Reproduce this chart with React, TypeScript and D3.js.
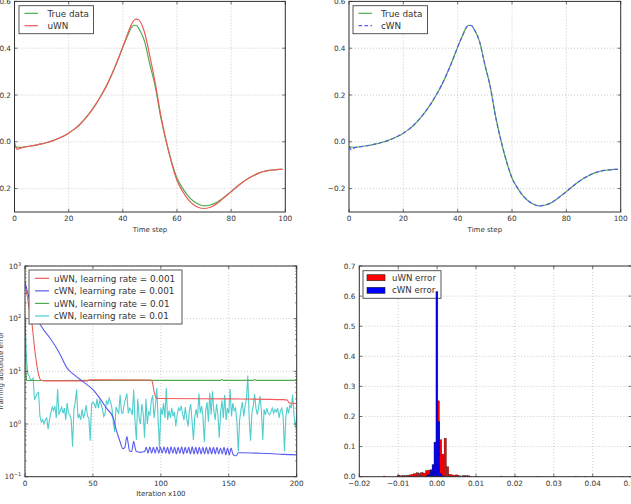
import React from 'react';
import * as d3 from 'd3';

const W = 631;
const H = 504;
const FONT = "'DejaVu Sans', sans-serif";

// ---------- Top panels: time series ----------
const timeSteps = [0, 1, 2, 4, 6, 8, 10, 12, 14, 16, 18, 20, 22, 24, 26, 28, 30, 32, 34, 36, 38, 40, 42, 43, 44, 45, 46, 48, 50, 52, 54, 56, 58, 60, 62, 64, 66, 68, 70, 72, 74, 76, 78, 80, 82, 84, 86, 88, 90, 92, 94, 96, 98, 99];
const trueData = [-0.022, -0.023, -0.024, -0.021, -0.018, -0.014, -0.009, -0.003, 0.004, 0.013, 0.024, 0.037, 0.053, 0.073, 0.098, 0.127, 0.16, 0.198, 0.24, 0.29, 0.345, 0.405, 0.46, 0.485, 0.498, 0.497, 0.482, 0.43, 0.33, 0.235, 0.105, 0.002, -0.085, -0.155, -0.197, -0.23, -0.253, -0.267, -0.274, -0.271, -0.263, -0.249, -0.231, -0.213, -0.193, -0.175, -0.159, -0.146, -0.135, -0.127, -0.122, -0.12, -0.118, -0.118];
const uwnData = [-0.004, -0.032, -0.028, -0.022, -0.018, -0.014, -0.009, -0.003, 0.004, 0.013, 0.024, 0.037, 0.053, 0.073, 0.098, 0.127, 0.16, 0.198, 0.24, 0.29, 0.345, 0.405, 0.468, 0.497, 0.518, 0.524, 0.52, 0.468, 0.365, 0.25, 0.115, 0.005, -0.09, -0.165, -0.21, -0.245, -0.268, -0.281, -0.285, -0.281, -0.27, -0.253, -0.233, -0.213, -0.193, -0.175, -0.159, -0.146, -0.135, -0.127, -0.122, -0.12, -0.118, -0.118];
const cwnData = [-0.02, -0.035, -0.026, -0.021, -0.018, -0.014, -0.009, -0.003, 0.004, 0.013, 0.024, 0.037, 0.053, 0.073, 0.098, 0.127, 0.16, 0.198, 0.24, 0.29, 0.345, 0.405, 0.46, 0.485, 0.498, 0.497, 0.482, 0.43, 0.33, 0.235, 0.105, 0.002, -0.085, -0.155, -0.197, -0.23, -0.253, -0.267, -0.274, -0.271, -0.263, -0.249, -0.231, -0.213, -0.193, -0.175, -0.159, -0.146, -0.135, -0.127, -0.122, -0.12, -0.118, -0.118];
const timeTicks = [0, 20, 40, 60, 80, 100];
const topYTicks = [-0.2, 0.0, 0.2, 0.4, 0.6];

// ---------- Bottom-left: training error (log) ----------
const uwnLr001: [number, number][] = [[0, 420], [1, 330], [2, 240], [3, 160], [5, 85], [7.4, 23], [9.8, 9.2], [12, 6.7], [15, 6.6], [46, 6.6], [47.5, 6.9], [92, 6.85], [93.5, 6.5], [95, 4.2], [96.5, 3.15], [98, 3.05], [150, 3.0], [190, 2.9], [193, 2.85], [194.5, 2.5], [200, 2.45]];
const cwnLr001: [number, number][] = [[0, 500], [1, 390], [3, 250], [6, 126], [10, 87], [14, 60], [18.4, 43], [25, 23], [31, 11.5], [37, 8.3], [43, 6.3], [50, 4.5], [55, 3.1], [60, 2.0], [65, 1.3], [67, 0.8], [68.5, 0.6], [70, 0.46], [72, 0.34], [73.5, 0.36], [75, 0.58], [76, 0.42], [77, 0.31], [78.5, 0.3], [80, 0.47], [81, 0.36], [82, 0.3], [85, 0.29], [88, 0.3], [89.3, 0.36], [90.6, 0.28], [91.9, 0.37], [93.2, 0.28], [94.5, 0.36], [95.8, 0.28], [97.1, 0.37], [98.4, 0.28], [99.7, 0.36], [101, 0.28], [102.3, 0.37], [103.6, 0.28], [104.9, 0.36], [106.2, 0.27], [107.5, 0.37], [108.8, 0.28], [110.1, 0.36], [111.4, 0.27], [112.7, 0.36], [114, 0.28], [115.3, 0.37], [116.6, 0.27], [117.9, 0.36], [119.2, 0.28], [120.5, 0.36], [121.8, 0.27], [123.1, 0.37], [124.4, 0.27], [125.7, 0.36], [127, 0.27], [128.3, 0.36], [129.6, 0.27], [130.9, 0.36], [132.2, 0.27], [133.5, 0.36], [134.8, 0.27], [136.1, 0.36], [137.4, 0.27], [138.7, 0.36], [140, 0.27], [141.3, 0.36], [142.6, 0.27], [143.9, 0.35], [145.2, 0.27], [146.5, 0.36], [147.8, 0.26], [149.1, 0.35], [150.4, 0.26], [151.7, 0.35], [153, 0.27], [154.5, 0.25], [155.5, 0.25], [157, 0.285], [160, 0.285], [170, 0.28], [180, 0.275], [190, 0.265], [200, 0.26]];
const uwnLr01: [number, number][] = [[0, 100], [0.6, 12], [1.2, 6.7], [50, 6.75], [144, 6.75], [145, 7.0], [146, 6.75], [168, 6.75], [169, 7.0], [170, 6.75], [200, 6.75]];
const cwnLr01 = [120, 18, 9, 8.2, 7, 6.8, 7.4, 2.9, 3.3, 3.8,
  4.0, 1.4, 1.1, 1.2, 1.0, 1.2, 1.3, 0.8, 1.2, 1.6,
  2.1, 1.8, 2.2, 1.3, 4.6, 1.5, 1.8, 2.1, 1.6, 2.0,
  1.2, 2.5, 1.6, 1.5, 1.2, 0.37, 1.9, 2.6, 4.5, 1.3,
  1.5, 1.2, 1.9, 1.3, 1.6, 2.3, 1.4, 1.3, 0.48, 2.4,
  2.6, 2.4, 2.0, 3.0, 2.0, 2.8, 2.4, 1.9, 1.4, 1.6,
  2.8, 2.4, 3.1, 2.6, 2.0, 1.1, 0.7, 2.1, 1.8, 1.6,
  3.6, 1.7, 1.6, 2.4, 3.0, 3.8, 1.6, 2.0, 1.8, 1.5,
  4.5, 1.1, 0.5, 3.0, 1.3, 1.0, 2.4, 1.6, 0.55, 3.0,
  1.0, 1.7, 1.5, 2.8, 3.5, 1.3, 2.2, 4.8, 1.2, 0.35,
  2.0, 1.5, 2.5, 1.3, 4.8, 1.2, 1.8, 1.3, 2.0, 1.4,
  1.7, 0.9, 1.5, 2.0, 1.8, 2.2, 1.6, 1.2, 2.1, 1.3,
  0.9, 1.8, 2.4, 1.1, 0.5, 1.4, 1.9, 1.3, 3.8, 1.6,
  2.2, 1.4, 0.45, 1.8, 2.6, 1.1, 3.9, 1.5, 4.2, 1.8,
  1.2, 2.4, 1.5, 0.55, 1.7, 2.8, 1.3, 3.6, 1.2, 2.0,
  1.6, 4.6, 1.4, 2.5, 1.8, 2.0, 1.1, 0.3, 1.2, 1.9,
  2.6, 1.4, 2.2, 3.0, 8.3, 1.3, 0.48, 1.6, 2.2, 3.7,
  2.0, 1.5, 2.1, 3.4, 1.8, 0.5, 1.9, 1.5, 2.0, 1.6,
  1.5, 1.7, 2.0, 1.6, 1.9, 1.7, 2.0, 1.3, 1.8, 2.0,
  1.4, 0.3, 1.4, 2.1, 1.6, 2.3, 2.0, 3.6, 1.5, 0.85,
  1.4];
const iterTicks = [0, 50, 100, 150, 200];
const logExps = [-1, 0, 1, 2, 3];

// ---------- Bottom-right: error histogram ----------
const uwnBinWidth = 0.0006;
const uwnBins: [number, number][] = [[-0.0138, 0.002], [-0.0102, 0.005], [-0.0096, 0.003], [-0.009, 0.004], [-0.0084, 0.003], [-0.0078, 0.005], [-0.0072, 0.006], [-0.0066, 0.008], [-0.006, 0.01], [-0.0054, 0.013], [-0.0048, 0.011], [-0.0042, 0.014], [-0.0036, 0.012], [-0.003, 0.02], [-0.0024, 0.022], [-0.0018, 0.023], [-0.0012, 0.03], [-0.0006, 0.05], [0.0, 0.252], [0.0006, 0.123], [0.0012, 0.075], [0.0018, 0.128], [0.0024, 0.033], [0.003, 0.008], [0.0036, 0.006], [0.0042, 0.005], [0.0048, 0.006], [0.0054, 0.003], [0.006, 0.002], [0.0066, 0.004], [0.0072, 0.003], [0.0078, 0.003], [0.0084, 0.001], [0.0102, 0.001], [0.0162, 0.002], [0.0198, 0.002], [0.0204, 0.001], [0.0258, 0.001], [0.0354, 0.001], [0.0378, 0.001], [0.0474, 0.001]];
const cwnBinWidth = 0.0005;
const cwnBins: [number, number][] = [[-0.0028, 0.004], [-0.0023, 0.008], [-0.0018, 0.02], [-0.0013, 0.04], [-0.0008, 0.115], [-0.0003, 0.615], [0.0002, 0.183], [0.0007, 0.012], [0.0012, 0.003]];
const histXTicks = [-0.02, -0.01, 0.0, 0.01, 0.02, 0.03, 0.04, 0.05];
const histYTicks = [0, 0.1, 0.2, 0.3, 0.4, 0.5, 0.6, 0.7];

// ---------- colours ----------
const C_GREEN = 'rgb(80,170,80)';
const C_RED = 'rgb(240,90,90)';
const C_BLUE = 'rgb(90,90,240)';
const C_CYAN = 'rgb(80,205,205)';
const TXT = '#333';
const GRID = '#aaa';

const minus = (s: string) => s.replace('-', '\u2212');

type Rect = { l: number; r: number; t: number; b: number };

function Grid({ rect, xs, ys }: { rect: Rect; xs: number[]; ys: number[] }) {
  return (
    <g stroke={GRID} strokeWidth={0.6} strokeDasharray="1,2">
      {xs.map((x, i) => <line key={'gx' + i} x1={x} x2={x} y1={rect.t} y2={rect.b} />)}
      {ys.map((y, i) => <line key={'gy' + i} x1={rect.l} x2={rect.r} y1={y} y2={y} />)}
    </g>
  );
}

function Ticks({ rect, xs, ys, len = 3 }: { rect: Rect; xs: number[]; ys: number[]; len?: number }) {
  return (
    <g stroke="#333" strokeWidth={0.7}>
      {xs.map((x, i) => (
        <g key={'tx' + i}>
          <line x1={x} x2={x} y1={rect.b} y2={rect.b - len} />
          <line x1={x} x2={x} y1={rect.t} y2={rect.t + len} />
        </g>
      ))}
      {ys.map((y, i) => (
        <g key={'ty' + i}>
          <line x1={rect.l} x2={rect.l + len} y1={y} y2={y} />
          <line x1={rect.r} x2={rect.r - len} y1={y} y2={y} />
        </g>
      ))}
    </g>
  );
}

function Frame({ rect }: { rect: Rect }) {
  return <rect x={rect.l} y={rect.t} width={rect.r - rect.l} height={rect.b - rect.t} fill="none" stroke="#333" strokeWidth={1} />;
}

function TopPanel({ rect, id, other, otherLabel, otherColor, dashed }: { rect: Rect; id: string; other: number[]; otherLabel: string; otherColor: string; dashed: boolean }) {
  const xs = d3.scaleLinear().domain([0, 100]).range([rect.l, rect.r]);
  const ys = d3.scaleLinear().domain([-0.3, 0.6]).range([rect.b, rect.t]);
  const line = d3.line<[number, number]>().x(d => xs(d[0])).y(d => ys(d[1])).curve(d3.curveMonotoneX);
  const tPts = timeSteps.map((t, i) => [t, trueData[i]] as [number, number]);
  const oPts = timeSteps.map((t, i) => [t, other[i]] as [number, number]);
  const fmt = d3.format('.1f');
  const lx = rect.l + (id === 'tl' ? 4.5 : 4);
  const lg = { x: lx, y: 5.7, w: 74.5, h: 28 };
  return (
    <g>
      <defs>
        <clipPath id={'clip' + id}><rect x={rect.l} y={rect.t} width={rect.r - rect.l} height={rect.b - rect.t} /></clipPath>
      </defs>
      <Grid rect={rect} xs={timeTicks.map(xs)} ys={topYTicks.map(ys)} />
      <g clipPath={`url(#clip${id})`} fill="none" strokeWidth={1.2}>
        <path d={line(tPts) || ''} stroke={C_GREEN} />
        <path d={line(oPts) || ''} stroke={otherColor} strokeDasharray={dashed ? '4,2.5' : undefined} />
      </g>
      <Ticks rect={rect} xs={timeTicks.map(xs)} ys={topYTicks.map(ys)} />
      <Frame rect={rect} />
      <g fontFamily={FONT} fontSize={7.3} fill={TXT}>
        {timeTicks.map((t, i) => <text key={'xl' + i} x={xs(t)} y={221} textAnchor="middle">{t}</text>)}
        {topYTicks.map((v, i) => <text key={'yl' + i} x={rect.l - 3.5} y={ys(v) + 2.6} textAnchor="end">{minus(fmt(v))}</text>)}
        <text x={(rect.l + rect.r) / 2} y={231.8} textAnchor="middle" fontSize={7}>Time step</text>
      </g>
      <g>
        <rect x={lg.x} y={lg.y} width={lg.w} height={lg.h} fill="white" stroke="#444" strokeWidth={0.9} />
        <line x1={lg.x + 5.5} x2={lg.x + 19} y1={13.3} y2={13.3} stroke={C_GREEN} strokeWidth={1.2} />
        <line x1={lg.x + 5.5} x2={lg.x + 19} y1={25.7} y2={25.7} stroke={otherColor} strokeWidth={1.2} strokeDasharray={dashed ? '3.5,2.5' : undefined} />
        <g fontFamily={FONT} fontSize={8.8} fill={TXT}>
          <text x={lg.x + (id === 'tl' ? 28.5 : 28)} y={16.5}>True data</text>
          <text x={lg.x + (id === 'tl' ? 28.5 : 28)} y={28.9}>{otherLabel}</text>
        </g>
      </g>
    </g>
  );
}

function LogPanel() {
  const rect: Rect = { l: 25, r: 296.7, t: 266, b: 476.7 };
  const xs = d3.scaleLinear().domain([0, 200]).range([rect.l, rect.r]);
  const ys = d3.scaleLog().domain([0.1, 1000]).range([rect.b, rect.t]);
  const line = d3.line<[number, number]>().x(d => xs(d[0])).y(d => ys(d[1])).curve(d3.curveMonotoneX);
  const lin = d3.line<[number, number]>().x(d => xs(d[0])).y(d => ys(d[1]));
  const cyanPts = cwnLr01.map((v, i) => [i, v] as [number, number]);
  const majors = logExps.map(e => Math.pow(10, e));
  const minors: number[] = [];
  for (let e = -1; e < 3; e++) for (let k = 2; k <= 9; k++) minors.push(k * Math.pow(10, e));
  const legendRows = [
    { label: 'uWN, learning rate = 0.001', color: C_RED },
    { label: 'cWN, learning rate = 0.001', color: C_BLUE },
    { label: 'uWN, learning rate = 0.01', color: C_GREEN },
    { label: 'cWN, learning rate = 0.01', color: C_CYAN },
  ];
  return (
    <g>
      <defs>
        <clipPath id="clipbl"><rect x={rect.l} y={rect.t} width={rect.r - rect.l} height={rect.b - rect.t} /></clipPath>
      </defs>
      <Grid rect={rect} xs={iterTicks.map(xs)} ys={majors.map(ys)} />
      <g clipPath="url(#clipbl)" fill="none" strokeWidth={1.1}>
        <path d={lin(cyanPts) || ''} stroke={C_CYAN} />
        <path d={line(uwnLr01) || ''} stroke={C_GREEN} />
        <path d={line(uwnLr001) || ''} stroke={C_RED} />
        <path d={line(cwnLr001) || ''} stroke={C_BLUE} />
      </g>
      <Ticks rect={rect} xs={iterTicks.map(xs)} ys={majors.map(ys)} />
      <g stroke="#333" strokeWidth={0.6}>
        {minors.map((m, i) => (
          <g key={'mn' + i}>
            <line x1={rect.l} x2={rect.l + 1.6} y1={ys(m)} y2={ys(m)} />
            <line x1={rect.r} x2={rect.r - 1.6} y1={ys(m)} y2={ys(m)} />
          </g>
        ))}
      </g>
      <Frame rect={rect} />
      <g fontFamily={FONT} fontSize={7.3} fill={TXT}>
        {iterTicks.map((t, i) => <text key={'xl' + i} x={xs(t)} y={486} textAnchor="middle">{t}</text>)}
        {logExps.map((e, i) => (
          <text key={'yl' + i} x={rect.l - 3.8} y={ys(Math.pow(10, e)) + 2.6} textAnchor="end">
            10<tspan dy={-3} fontSize={5}>{minus(String(e))}</tspan>
          </text>
        ))}
        <text x={(rect.l + rect.r) / 2} y={496} textAnchor="middle" fontSize={7}>Iteration x100</text>
        <text transform="translate(3,371) rotate(-90)" textAnchor="middle" fontSize={7}>Training absolute error</text>
      </g>
      <g>
        <rect x={29} y={270} width={153} height={54} fill="white" stroke="#444" strokeWidth={0.9} />
        {legendRows.map((r, i) => (
          <g key={'lg' + i}>
            <line x1={35} x2={49} y1={278.3 + i * 12.55} y2={278.3 + i * 12.55} stroke={r.color} strokeWidth={1.2} />
            <text x={54} y={281.5 + i * 12.55} fontFamily={FONT} fontSize={8.8} fill={TXT}>{r.label}</text>
          </g>
        ))}
      </g>
    </g>
  );
}

function HistPanel() {
  const rect: Rect = { l: 359.3, r: 631.6, t: 266, b: 476.7 };
  const xs = d3.scaleLinear().domain([-0.02, 0.05]).range([rect.l, rect.r]);
  const ys = d3.scaleLinear().domain([0, 0.7]).range([rect.b, rect.t]);
  const fmtX = d3.format('.2f');
  const fmtY = d3.format('.1f');
  const bars = (bins: [number, number][], w: number, fill: string, key: string) =>
    bins.map((b, i) => (
      <rect key={key + i} x={xs(b[0])} width={xs(b[0] + w) - xs(b[0])} y={ys(b[1])} height={ys(0) - ys(b[1])} fill={fill} stroke="#222" strokeWidth={0.35} />
    ));
  return (
    <g>
      <Grid rect={rect} xs={histXTicks.map(xs)} ys={histYTicks.map(ys)} />
      <g>
        <rect x={363} y={270.7} width={78} height={27.6} fill="white" stroke="#444" strokeWidth={0.9} />
        <rect x={367} y={274.7} width={18} height={6} fill="#ff0000" stroke="#222" strokeWidth={0.6} />
        <rect x={367} y={287.3} width={18} height={6} fill="#0000ff" stroke="#222" strokeWidth={0.6} />
        <g fontFamily={FONT} fontSize={8.6} fill={TXT}>
          <text x={392} y={280.8}>uWN error</text>
          <text x={392} y={293.4}>cWN error</text>
        </g>
      </g>
      {bars(uwnBins, uwnBinWidth, '#ff0000', 'u')}
      {bars(cwnBins, cwnBinWidth, '#0000ee', 'c')}
      <Ticks rect={rect} xs={histXTicks.map(xs)} ys={histYTicks.map(ys)} />
      <Frame rect={rect} />
      <g fontFamily={FONT} fontSize={7.3} fill={TXT}>
        {histXTicks.map((t, i) => <text key={'xl' + i} x={xs(t)} y={486} textAnchor="middle">{minus(fmtX(t))}</text>)}
        {histYTicks.map((v, i) => <text key={'yl' + i} x={rect.l - 4} y={ys(v) + 2.6} textAnchor="end">{fmtY(v)}</text>)}
      </g>
    </g>
  );
}

export default function App() {
  return (
    <svg width={W} height={H} viewBox={`0 0 ${W} ${H}`} style={{ position: 'absolute', left: 0, top: 0, display: 'block', background: 'white' }}>
      <rect x={0} y={0} width={W} height={H} fill="white" />
      <TopPanel rect={{ l: 14.5, r: 285.3, t: 1.4, b: 212 }} id="tl" other={uwnData} otherLabel="uWN" otherColor={C_RED} dashed={false} />
      <TopPanel rect={{ l: 349, r: 620.7, t: 1.4, b: 212 }} id="tr" other={cwnData} otherLabel="cWN" otherColor={C_BLUE} dashed={true} />
      <LogPanel />
      <HistPanel />
    </svg>
  );
}
